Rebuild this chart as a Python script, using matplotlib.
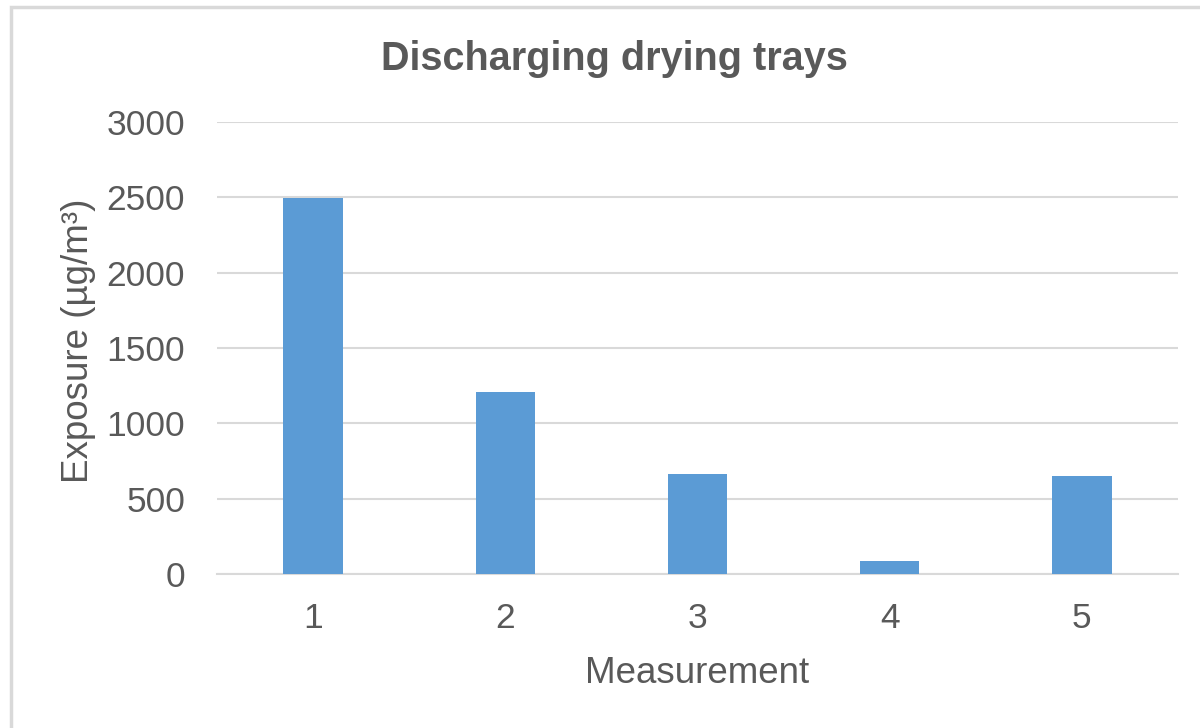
import matplotlib
matplotlib.use("Agg")
import matplotlib.pyplot as plt
from matplotlib.patches import Rectangle

# chart data
measurements = ["1", "2", "3", "4", "5"]
exposure = [2495, 1205, 662, 85, 652]
y_ticks = [0, 500, 1000, 1500, 2000, 2500, 3000]

text_color = "#595959"
bar_color = "#5B9BD5"
grid_color = "#D9D9D9"

plt.rcParams["font.family"] = ["Liberation Sans", "DejaVu Sans"]

fig = plt.figure(figsize=(12, 7.28), dpi=100)
ax = fig.add_axes([217 / 1200, 1 - 574 / 728, 961 / 1200, 452 / 728])

x = list(range(len(measurements)))
ax.bar(x, exposure, width=0.31, color=bar_color, zorder=3)

ax.set_xlim(-0.5, len(measurements) - 0.5)
ax.set_ylim(0, 3000)
ax.set_yticks(y_ticks)
ax.set_yticklabels([str(t) for t in y_ticks])
ax.set_xticks(x)
ax.set_xticklabels(measurements)

ax.grid(axis="y", color=grid_color, linewidth=1.5, zorder=0)
for side in ["top", "right", "left"]:
    ax.spines[side].set_visible(False)
ax.spines["bottom"].set_color(grid_color)
ax.spines["bottom"].set_linewidth(1.5)

ax.tick_params(axis="both", length=0, labelsize=25.5, colors=text_color)
ax.tick_params(axis="x", pad=20)
ax.tick_params(axis="y", pad=23)

# titles and axis labels
fig.text(614 / 1200, 1 - 70 / 728, "Discharging drying trays", ha="center",
         va="baseline", fontsize=28.5, fontweight="bold", color=text_color)
fig.text(697 / 1200, 1 - 683 / 728, "Measurement", ha="center", va="baseline",
         fontsize=26.5, color=text_color)
fig.text(78 / 1200, 1 - 341 / 728, "Exposure (µg/m³)", ha="center", va="center",
         rotation=90, fontsize=26.5, color=text_color)

# chart area border (top and left edges visible)
fig.patches.append(Rectangle((10.5 / 1200, -0.1), 1.2, 1 - 7.5 / 728 + 0.1,
                             transform=fig.transFigure, fill=False,
                             edgecolor=grid_color, linewidth=2.5))

fig.savefig("out.png", dpi=100)
